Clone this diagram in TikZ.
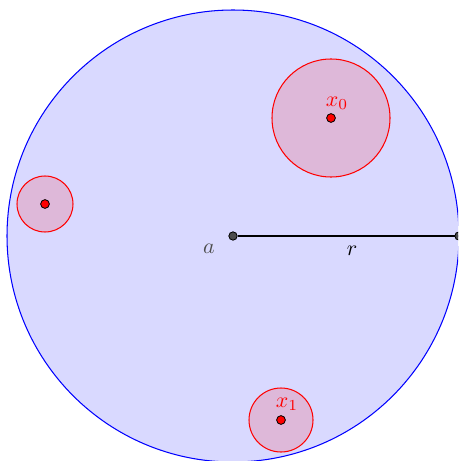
\documentclass[tikz,border=0pt]{standalone}
\begin{document}
\begin{tikzpicture}[x=0.48pt,y=-0.48pt,
  ptred/.style={circle,draw=black,fill=red,inner sep=0pt,minimum size=4.2pt,line width=0.4pt},
  ptgray/.style={circle,draw=black,fill=black!70,inner sep=0pt,minimum size=4pt,line width=0.4pt},
  ballfill/.style={red,opacity=0.15},
  ballline/.style={red,line width=0.5pt},
  lbl/.style={red,scale=1.05}]
\useasboundingbox (0,0) rectangle (458,461);
\begin{scope}
\clip (0,0) rectangle (458,461);
\draw[blue,fill=blue!15,line width=0.5pt] (233,236) circle[radius=226];
\fill[ballfill] (331,118) circle[radius=59];
\draw[ballline] (331,118) circle[radius=59];
\fill[ballfill] (45,204) circle[radius=28];
\draw[ballline] (45,204) circle[radius=28];
\fill[ballfill] (281,420) circle[radius=32];
\draw[ballline] (281,420) circle[radius=32];
\node[ptgray] (a) at (233,236) {};
\coordinate (e) at (459,236);
\draw[line width=1pt] (a) -- (e);
\node[ptgray] (eb) at (e) {};
\node[ptred] (x0) at (331,118) {};
\node[ptred] (x2) at (45,204) {};
\node[ptred] (x1) at (281,420) {};
\node[text=black!70,scale=1.05] (la) at (209,249) {$a$};
\node[scale=1.05] (lr) at (352,251) {$r$};
\node[lbl] (l0) at (337,103) {$x_0$};
\node[lbl] (l1) at (287,404) {$x_1$};
\end{scope}
\end{tikzpicture}
\end{document}
